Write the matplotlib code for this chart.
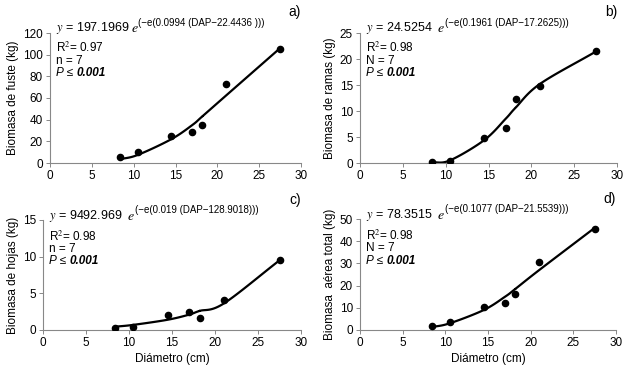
import matplotlib
matplotlib.use("Agg")
import matplotlib.pyplot as plt
import numpy as np

plt.rcParams['font.family'] = ['Liberation Sans', 'DejaVu Sans']
plt.rcParams['mathtext.fontset'] = 'stix'

# data
dap = [8.4, 10.5, 14.5, 17.0, 18.2, 21.0, 27.5]

fuste = [6.0, 10.5, 25.0, 28.5, 35.5, 72.5, 105.5]
fuste_fit = [3.5, 7.5, 22.0, 35.0, 43.0, 62.0, 106.0]

ramas = [0.2, 0.4, 4.9, 6.8, 12.3, 14.9, 21.5]
ramas_fit = [0.1, 0.5, 4.4, 8.5, 10.7, 15.2, 21.4]

hojas = [0.3, 0.4, 2.0, 2.4, 1.7, 4.1, 9.6]
hojas_fit = [0.45, 0.7, 1.4, 2.1, 2.6, 3.6, 9.5]

total = [2.0, 3.5, 10.5, 12.3, 16.3, 30.5, 45.5]
total_fit = [1.3, 3.0, 9.0, 15.0, 18.5, 27.0, 46.0]

W, H = 631, 375
fig = plt.figure(figsize=(W / 100, H / 100), dpi=100)


def make_ax(left, right, top, bottom):
    return fig.add_axes([left / W, (H - bottom) / H, (right - left) / W, (bottom - top) / H])


def smooth(x, y, n=20):
    # catmull-rom path through the points, like a spreadsheet "smoothed line"
    x = np.asarray(x, float)
    y = np.asarray(y, float)
    px = np.concatenate([[2 * x[0] - x[1]], x, [2 * x[-1] - x[-2]]])
    py = np.concatenate([[2 * y[0] - y[1]], y, [2 * y[-1] - y[-2]]])
    xs, ys = [], []
    t = np.linspace(0, 1, n)
    for i in range(1, len(px) - 2):
        for arr, out in ((px, xs), (py, ys)):
            p0, p1, p2, p3 = arr[i - 1], arr[i], arr[i + 1], arr[i + 2]
            out.extend(0.5 * (2 * p1 + (-p0 + p2) * t + (2 * p0 - 5 * p1 + 4 * p2 - p3) * t ** 2
                              + (-p0 + 3 * p1 - 3 * p2 + p3) * t ** 3))
    return xs, ys


panels = [
    dict(box=(50, 301, 33, 163), y=fuste, fit=fuste_fit, ymax=120, ystep=20,
         ylabel='Biomasa de fuste (kg)', tag='a)', n='n = 7', r2='0.97',
         coef='197.1969 ', expo='(\u2212e(0.0994 (DAP\u221222.4436 )))',
         rows=(0.885, 0.785, 0.69), tagy=1.16),
    dict(box=(360, 617, 33, 163), y=ramas, fit=ramas_fit, ymax=25, ystep=5,
         ylabel='Biomasa de ramas (kg)', tag='b)', n='N = 7', r2='0.98',
         coef='24.5254  ', expo='(\u2212e(0.1961 (DAP\u221217.2625)))',
         rows=(0.885, 0.785, 0.69), tagy=1.16),
    dict(box=(43, 301, 220, 330), y=hojas, fit=hojas_fit, ymax=15, ystep=5,
         ylabel='Biomasa de hojas (kg)', tag='c)', n='n = 7', r2='0.98',
         coef='9492.969  ', expo='(\u2212e(0.019 (DAP\u2212128.9018)))',
         rows=(0.85, 0.74, 0.625), tagy=1.18),
    dict(box=(360, 616, 219, 330), y=total, fit=total_fit, ymax=50, ystep=10,
         ylabel='Biomasa  aérea total (kg)', tag='d)', n='N = 7', r2='0.98',
         coef='78.3515  ', expo='(\u2212e(0.1077 (DAP\u221221.5539)))',
         rows=(0.85, 0.74, 0.62), tagy=1.18),
]

for i, p in enumerate(panels):
    ax = make_ax(*p['box'])
    sx, sy = smooth(dap, p['fit'])
    ax.plot(sx, sy, color='black', lw=1.6, solid_capstyle='round')
    ax.scatter(dap, p['y'], s=20, color='black', zorder=3)
    ax.set_xlim(0, 30)
    ax.set_ylim(0, p['ymax'])
    ax.set_xticks(np.arange(0, 31, 5))
    ax.set_yticks(np.arange(0, p['ymax'] + 1, p['ystep']))
    for s in ['top', 'right']:
        ax.spines[s].set_visible(False)
    for s in ['left', 'bottom']:
        ax.spines[s].set_color('#888888')
        ax.spines[s].set_linewidth(0.8)
    ax.tick_params(labelsize=8.5, length=3, width=0.7, color='#888888', pad=2)
    ax.set_ylabel(p['ylabel'], fontsize=8.5, labelpad=3)
    if i >= 2:
        ax.set_xlabel('Diámetro (cm)', fontsize=8.5, labelpad=3)

    # equation, built from pieces so the exponent stays readable
    x0 = 0.025
    t1 = ax.text(x0, 1.035, '$y$ = ' + p['coef'], transform=ax.transAxes,
                 fontsize=9, va='center')
    t2 = ax.annotate('$e$', xy=(1, 0.5), xycoords=t1, fontsize=10, va='center')
    ax.annotate(p['expo'], xy=(1, 0.55), xycoords=t2, fontsize=7, va='bottom')

    r_r2, r_n, r_p = p['rows']
    ax.text(x0, r_r2, 'R$^2$= ' + p['r2'], transform=ax.transAxes, fontsize=8.5, va='center')
    ax.text(x0, r_n, p['n'], transform=ax.transAxes, fontsize=8.5, va='center')
    tp = ax.text(x0, r_p, 'P \u2264 ', transform=ax.transAxes, fontsize=8.5,
                 va='center', style='italic')
    ax.annotate('0.001', xy=(1, 0.5), xycoords=tp, fontsize=8.5, va='center',
                style='italic', weight='bold')
    ax.text(1.0, p['tagy'], p['tag'], transform=ax.transAxes,
            fontsize=10, ha='right', va='center')

fig.savefig('out.png', dpi=100)
